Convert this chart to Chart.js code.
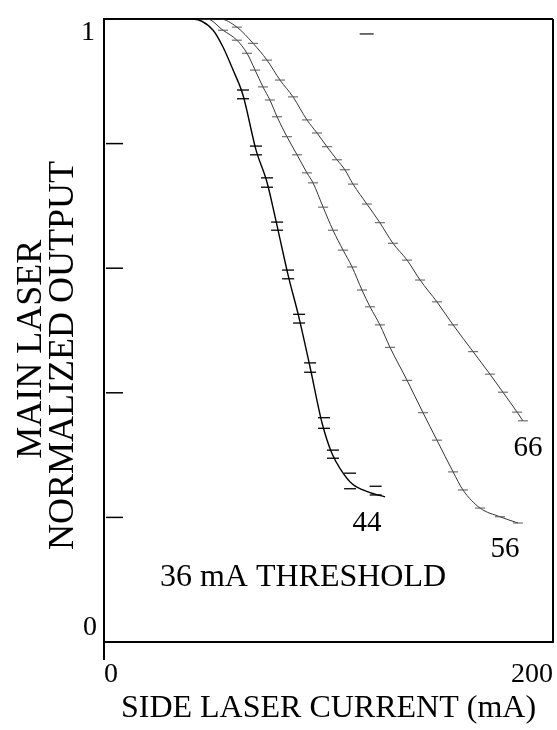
<!DOCTYPE html>
<html>
<head>
<meta charset="utf-8">
<script src="https://cdn.jsdelivr.net/npm/chart.js@4/dist/chart.umd.min.js"></script>
<style>
  html, body { margin: 0; padding: 0; background: #fff; }
  #wrap { width: 557px; height: 730px; position: relative; }
</style>
</head>
<body>
<div id="wrap"><canvas id="chart"></canvas></div>
<script>
// side laser current (mA) / main laser normalized output
const current44 = [4, 39.6, 48.6, 53.0, 57.5, 61.9, 67.7, 72.6, 77.1, 82.0, 86.9, 91.8, 97.1, 101.6, 105.6, 110.5, 117.6, 125.2];
const output44  = [1, 1, 0.982, 0.955, 0.918, 0.878, 0.790, 0.738, 0.668, 0.589, 0.520, 0.441, 0.352, 0.302, 0.276, 0.254, 0.241, 0.233];

const current56 = [4, 45.9, 53.0, 59.2, 63.7, 67.3, 70.8, 73.9, 77.1, 81.5, 86.0, 90.4, 93.1, 97.6, 102.0, 106.5, 110.5, 114.9, 118.5, 122.9, 127.4, 135.0, 142.1, 148.3, 155.5, 159.9, 167.5, 176.4, 184.4];
const output56  = [1, 1, 0.982, 0.966, 0.945, 0.918, 0.891, 0.870, 0.843, 0.811, 0.782, 0.753, 0.737, 0.698, 0.661, 0.629, 0.602, 0.565, 0.538, 0.509, 0.473, 0.420, 0.368, 0.324, 0.273, 0.244, 0.215, 0.201, 0.191];

const current66 = [4, 51.7, 59.2, 66.4, 72.6, 78.4, 84.2, 90.4, 94.9, 99.3, 103.8, 107.3, 110.9, 117.1, 122.9, 128.7, 135.0, 140.8, 148.3, 155.5, 164.4, 171.9, 177.7, 184.0, 186.6];
const output66  = [1, 1, 0.987, 0.961, 0.934, 0.902, 0.875, 0.838, 0.817, 0.795, 0.774, 0.758, 0.735, 0.703, 0.673, 0.640, 0.613, 0.581, 0.546, 0.509, 0.466, 0.430, 0.401, 0.369, 0.355];

// the "=" marks on the 44 mA curve (upper and lower dash)
const mark44Current = [61.9, 67.7, 72.6, 77.1, 82.0, 86.9, 91.8, 98.0, 102.0, 109.6, 121.0];
const mark44Upper   = [0.886, 0.796, 0.745, 0.674, 0.597, 0.526, 0.448, 0.360, 0.308, 0.271, 0.250];
const mark44Lower   = [0.872, 0.782, 0.730, 0.661, 0.583, 0.512, 0.433, 0.343, 0.295, 0.246, 0.236];

const strayCurrent = [117];
const strayOutput = [0.976];

const thresholds = ['44', '56', '66'];
const xTickLabels = ['0', '200'];
const yTickLabels = ['0', '1'];
const yTickSteps = [0, 0.2, 0.4, 0.6, 0.8, 1];
const yTitle = ['MAIN LASER', 'NORMALIZED OUTPUT'];

const pts = (xs, ys) => xs.map((x, i) => ({x, y: ys[i]}));
const serif = 'Liberation Serif, Times New Roman, serif';

// where the text sits, in data units
const notes = [
  {text: thresholds[0], x: 117.1, y: 0.191},
  {text: thresholds[1], x: 178.6, y: 0.148},
  {text: thresholds[2], x: 188.9, y: 0.311},
];

const extras = {
  id: 'extras',
  afterDraw(chart) {
    const {ctx, chartArea: a, scales: {x, y}} = chart;
    ctx.save();
    ctx.strokeStyle = '#000';
    ctx.lineWidth = 1.5;
    // short inward ticks on the left axis
    yTickSteps.slice(1, -1).forEach(v => {
      const py = y.getPixelForValue(v);
      ctx.beginPath();
      ctx.moveTo(a.left + 2, py);
      ctx.lineTo(a.left + 19, py);
      ctx.stroke();
    });
    ctx.lineWidth = 2;
    ctx.beginPath();
    ctx.moveTo(a.left, a.bottom);
    ctx.lineTo(a.left, a.bottom + 18);
    ctx.stroke();

    ctx.fillStyle = '#000';
    ctx.font = '28px ' + serif;
    ctx.textAlign = 'right';
    ctx.textBaseline = 'middle';
    ctx.fillText(yTickLabels[1], a.left - 9, y.getPixelForValue(1) + 14);
    ctx.fillText(yTickLabels[0], a.left - 7, y.getPixelForValue(0) - 14);

    ctx.font = '29px ' + serif;
    ctx.textAlign = 'center';
    notes.forEach(n => ctx.fillText(n.text, x.getPixelForValue(n.x), y.getPixelForValue(n.y)));
    ctx.font = '32px ' + serif;
    ctx.textAlign = 'left';
    ctx.fillText('36 mA THRESHOLD', x.getPixelForValue(24.9), y.getPixelForValue(0.103));

    // rotated two-line title of the left axis
    ctx.font = '36px ' + serif;
    ctx.textAlign = 'center';
    [[32, 0.47], [64, 0.46]].forEach(([px, v], i) => {
      ctx.save();
      ctx.translate(px, y.getPixelForValue(v));
      ctx.rotate(-Math.PI / 2);
      ctx.fillText(yTitle[i], 0, 0);
      ctx.restore();
    });
    ctx.restore();
  }
};

const dashRadius = c => (c.raw && c.raw.y >= 1 ? 0 : 5);

new Chart(document.getElementById('chart'), {
  type: 'line',
  data: {
    datasets: [
      {label: '44', data: pts(current44, output44), borderColor: '#000', borderWidth: 1.4, pointRadius: 0, cubicInterpolationMode: 'monotone'},
      {label: '56', data: pts(current56, output56), borderColor: '#333', borderWidth: 1, pointStyle: 'line', pointRadius: dashRadius, pointBorderColor: '#555', pointBorderWidth: 1, cubicInterpolationMode: 'monotone'},
      {label: '66', data: pts(current66, output66), borderColor: '#333', borderWidth: 1, pointStyle: 'line', pointRadius: dashRadius, pointBorderColor: '#555', pointBorderWidth: 1, cubicInterpolationMode: 'monotone'},
      {label: '44 upper', data: pts(mark44Current, mark44Upper), showLine: false, pointStyle: 'line', pointRadius: 6, pointBorderColor: '#000', pointBorderWidth: 1.3},
      {label: '44 lower', data: pts(mark44Current, mark44Lower), showLine: false, pointStyle: 'line', pointRadius: 6, pointBorderColor: '#000', pointBorderWidth: 1.3},
      {label: 'stray', data: pts(strayCurrent, strayOutput), showLine: false, pointStyle: 'line', pointRadius: 7, pointBorderColor: '#222', pointBorderWidth: 1.3}
    ]
  },
  options: {
    responsive: true,
    maintainAspectRatio: false,
    animation: false,
    layout: {autoPadding: false, padding: {top: 19, right: 4, left: 0, bottom: 0}},
    plugins: {legend: {display: false}, tooltip: {enabled: false}},
    scales: {
      x: {
        type: 'linear', min: 0, max: 200,
        afterBuildTicks: s => { s.ticks = [{value: 0}, {value: 200}]; },
        afterFit: s => { s.height = 88; s.paddingLeft = 0; s.paddingRight = 0; },
        border: {color: '#000', width: 2},
        grid: {drawTicks: false, lineWidth: 2, color: c => (c.tick && c.tick.value === 200 ? '#000' : 'rgba(0,0,0,0)')},
        ticks: {
          align: 'inner', padding: 16, color: '#000',
          font: {family: serif, size: 28},
          callback: v => xTickLabels[v === 0 ? 0 : 1]
        },
        title: {display: true, text: 'SIDE LASER CURRENT (mA)', color: '#000', font: {family: serif, size: 32}, padding: {top: 0, bottom: 2}}
      },
      y: {
        type: 'linear', min: 0, max: 1,
        afterBuildTicks: s => { s.ticks = yTickSteps.map(v => ({value: v})); },
        afterFit: s => { s.width = 104; s.paddingTop = 0; s.paddingBottom = 0; },
        border: {color: '#000', width: 2},
        grid: {drawTicks: false, lineWidth: 2, color: c => (c.tick && c.tick.value === 1 ? '#000' : 'rgba(0,0,0,0)')},
        ticks: {display: false},
        title: {display: false}
      }
    }
  },
  plugins: [extras]
});
</script>
</body>
</html>
